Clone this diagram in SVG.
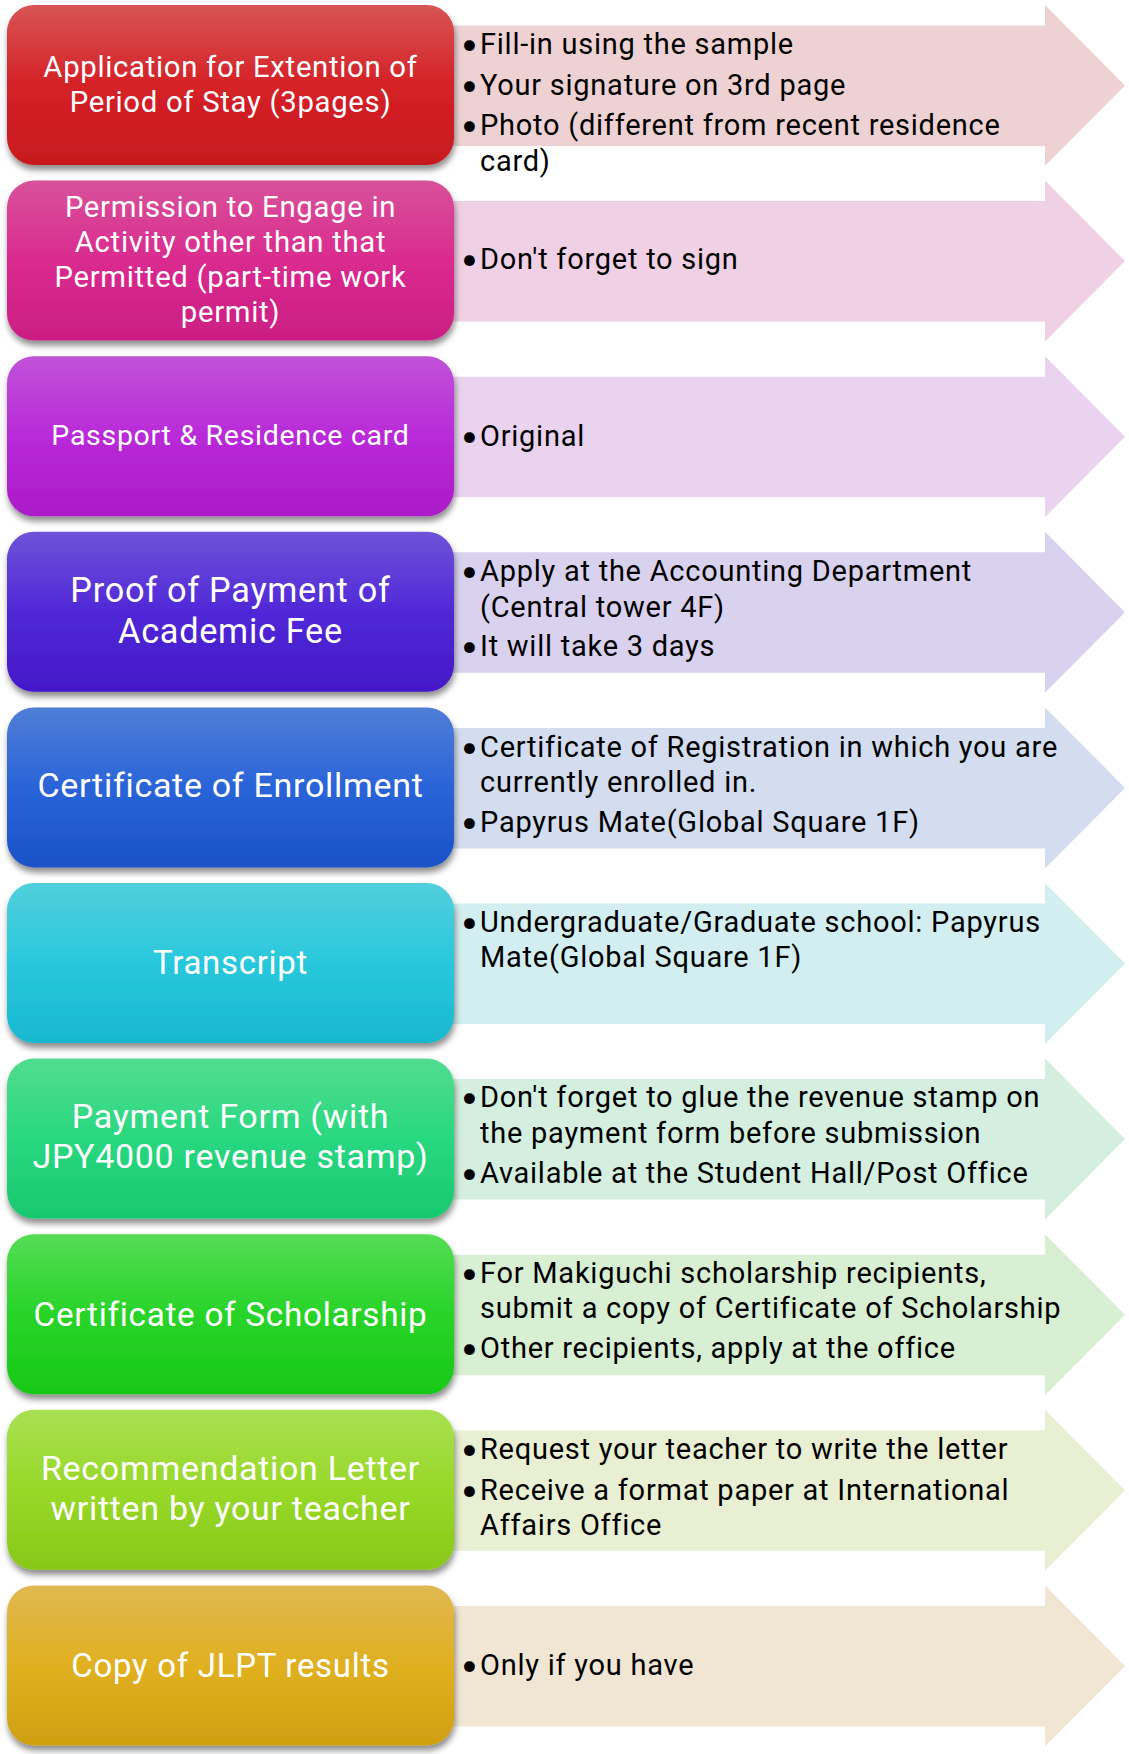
<svg xmlns="http://www.w3.org/2000/svg" width="1129" height="1754" viewBox="0 0 1129 1754">
<style>
.box{filter:url(#sh);}
.lt{font-family:Roboto,"Liberation Sans",sans-serif;fill:#ffffff;text-anchor:middle;letter-spacing:0.7px;}
.rt{font-family:Roboto,"Liberation Sans",sans-serif;fill:#000000;font-size:29px;letter-spacing:0.75px;}
.bl{font-family:Lato,Roboto,sans-serif;font-size:29px;letter-spacing:0;}
</style>
<defs>
<filter id="sh" x="-5%" y="-10%" width="112%" height="125%">
<feDropShadow dx="1" dy="5" stdDeviation="3" flood-color="#000" flood-opacity="0.45"/>
</filter>
<linearGradient id="g1" x1="0" y1="0" x2="0" y2="1"><stop offset="0" stop-color="#d75555"/><stop offset="0.5" stop-color="#d52127"/><stop offset="1" stop-color="#c7191e"/></linearGradient>
<linearGradient id="g2" x1="0" y1="0" x2="0" y2="1"><stop offset="0" stop-color="#d8529a"/><stop offset="0.5" stop-color="#da2a8f"/><stop offset="1" stop-color="#cb1e83"/></linearGradient>
<linearGradient id="g3" x1="0" y1="0" x2="0" y2="1"><stop offset="0" stop-color="#c052d8"/><stop offset="0.5" stop-color="#b92ad8"/><stop offset="1" stop-color="#ab1ac8"/></linearGradient>
<linearGradient id="g4" x1="0" y1="0" x2="0" y2="1"><stop offset="0" stop-color="#6e52d8"/><stop offset="0.5" stop-color="#5028d8"/><stop offset="1" stop-color="#4418c8"/></linearGradient>
<linearGradient id="g5" x1="0" y1="0" x2="0" y2="1"><stop offset="0" stop-color="#507ed8"/><stop offset="0.5" stop-color="#2a64d8"/><stop offset="1" stop-color="#1a52c8"/></linearGradient>
<linearGradient id="g6" x1="0" y1="0" x2="0" y2="1"><stop offset="0" stop-color="#52cfdc"/><stop offset="0.5" stop-color="#28c8dc"/><stop offset="1" stop-color="#18b8d0"/></linearGradient>
<linearGradient id="g7" x1="0" y1="0" x2="0" y2="1"><stop offset="0" stop-color="#52dc90"/><stop offset="0.5" stop-color="#28d880"/><stop offset="1" stop-color="#18c870"/></linearGradient>
<linearGradient id="g8" x1="0" y1="0" x2="0" y2="1"><stop offset="0" stop-color="#55dc55"/><stop offset="0.5" stop-color="#28d428"/><stop offset="1" stop-color="#18c818"/></linearGradient>
<linearGradient id="g9" x1="0" y1="0" x2="0" y2="1"><stop offset="0" stop-color="#a8e052"/><stop offset="0.5" stop-color="#98d828"/><stop offset="1" stop-color="#88c818"/></linearGradient>
<linearGradient id="g10" x1="0" y1="0" x2="0" y2="1"><stop offset="0" stop-color="#e0b852"/><stop offset="0.5" stop-color="#e0b020"/><stop offset="1" stop-color="#d0a010"/></linearGradient>
<path id="arr" d="M440 20.5 H1045 V0 L1125 80.5 L1045 161 V141 H440 Z"/>
</defs>

<g id="connectors">
<use href="#arr" transform="translate(0,5)" fill="#eed2d3"/>
<use href="#arr" transform="translate(0,180.6)" fill="#f0d0e4"/>
<use href="#arr" transform="translate(0,356.2)" fill="#e9d3ef"/>
<use href="#arr" transform="translate(0,531.8)" fill="#d9d2ef"/>
<use href="#arr" transform="translate(0,707.4)" fill="#d3ddef"/>
<use href="#arr" transform="translate(0,883)" fill="#d3eef0"/>
<use href="#arr" transform="translate(0,1058.6)" fill="#d4efdf"/>
<use href="#arr" transform="translate(0,1234.2)" fill="#d8efd4"/>
<use href="#arr" transform="translate(0,1409.8)" fill="#e8efd3"/>
<use href="#arr" transform="translate(0,1585.4)" fill="#f1e6d3"/>
</g>

<g id="row1" transform="translate(0,5)">
<rect class="box" x="7" y="0" width="447" height="160" rx="27" fill="url(#g1)"/>
<text class="lt" font-size="29.3"><tspan x="230.5" y="72">Application for Extention of</tspan><tspan x="230.5" y="107">Period of Stay (3pages)</tspan></text>
<text class="rt"><tspan class="bl" x="461" y="49">•</tspan><tspan x="480" y="49">Fill-in using the sample</tspan><tspan class="bl" x="461" y="90">•</tspan><tspan x="480" y="90">Your signature on 3rd page</tspan><tspan class="bl" x="461" y="130">•</tspan><tspan x="480" y="130">Photo (different from recent residence</tspan><tspan x="480" y="165.7">card)</tspan></text>
</g>

<g id="row2" transform="translate(0,180.6)">
<rect class="box" x="7" y="0" width="447" height="160" rx="27" fill="url(#g2)"/>
<text class="lt" font-size="29.3"><tspan x="230.5" y="36.4">Permission to Engage in</tspan><tspan x="230.5" y="71.4">Activity other than that</tspan><tspan x="230.5" y="106.4">Permitted (part-time work</tspan><tspan x="230.5" y="141.4">permit)</tspan></text>
<text class="rt"><tspan class="bl" x="461" y="88.7">•</tspan><tspan x="480" y="88.7">Don't forget to sign</tspan></text>
</g>

<g id="row3" transform="translate(0,356.2)">
<rect class="box" x="7" y="0" width="447" height="160" rx="27" fill="url(#g3)"/>
<text class="lt" font-size="28.5" x="230.5" y="88.8">Passport &amp; Residence card</text>
<text class="rt"><tspan class="bl" x="461" y="89.8">•</tspan><tspan x="480" y="89.8">Original</tspan></text>
</g>

<g id="row4" transform="translate(0,531.8)">
<rect class="box" x="7" y="0" width="447" height="160" rx="27" fill="url(#g4)"/>
<text class="lt" font-size="34.3"><tspan x="230.5" y="69.9">Proof of Payment of</tspan><tspan x="230.5" y="111.2">Academic Fee</tspan></text>
<text class="rt"><tspan class="bl" x="461" y="49.2">•</tspan><tspan x="480" y="49.2">Apply at the Accounting Department</tspan><tspan x="480" y="84.9">(Central tower 4F)</tspan><tspan class="bl" x="461" y="124.2">•</tspan><tspan x="480" y="124.2">It will take 3 days</tspan></text>
</g>

<g id="row5" transform="translate(0,707.4)">
<rect class="box" x="7" y="0" width="447" height="160" rx="27" fill="url(#g5)"/>
<text class="lt" font-size="34" x="230.5" y="89.3">Certificate of Enrollment</text>
<text class="rt"><tspan class="bl" x="461" y="49.3">•</tspan><tspan x="480" y="49.3">Certificate of Registration in which you are</tspan><tspan x="480" y="84.3">currently enrolled in.</tspan><tspan class="bl" x="461" y="124.9">•</tspan><tspan x="480" y="124.9">Papyrus Mate(Global Square 1F)</tspan></text>
</g>

<g id="row6" transform="translate(0,883)">
<rect class="box" x="7" y="0" width="447" height="160" rx="27" fill="url(#g6)"/>
<text class="lt" font-size="33" x="230.5" y="91">Transcript</text>
<text class="rt"><tspan class="bl" x="461" y="48.7">•</tspan><tspan x="480" y="48.7">Undergraduate/Graduate school: Papyrus</tspan><tspan x="480" y="84.3">Mate(Global Square 1F)</tspan></text>
</g>

<g id="row7" transform="translate(0,1058.6)">
<rect class="box" x="7" y="0" width="447" height="160" rx="27" fill="url(#g7)"/>
<text class="lt" font-size="34"><tspan x="230.5" y="69.4">Payment Form (with</tspan><tspan x="230.5" y="109.4">JPY4000 revenue stamp)</tspan></text>
<text class="rt"><tspan class="bl" x="461" y="48.7">•</tspan><tspan x="480" y="48.7">Don't forget to glue the revenue stamp on</tspan><tspan x="480" y="84.1">the payment form before submission</tspan><tspan class="bl" x="461" y="124.7">•</tspan><tspan x="480" y="124.7">Available at the Student Hall/Post Office</tspan></text>
</g>

<g id="row8" transform="translate(0,1234.2)">
<rect class="box" x="7" y="0" width="447" height="160" rx="27" fill="url(#g8)"/>
<text class="lt" font-size="33.3" x="230.5" y="91.8">Certificate of Scholarship</text>
<text class="rt"><tspan class="bl" x="461" y="49.1">•</tspan><tspan x="480" y="49.1">For Makiguchi scholarship recipients,</tspan><tspan x="480" y="84.1">submit a copy of Certificate of Scholarship</tspan><tspan class="bl" x="461" y="124.1">•</tspan><tspan x="480" y="124.1">Other recipients, apply at the office</tspan></text>
</g>

<g id="row9" transform="translate(0,1409.8)">
<rect class="box" x="7" y="0" width="447" height="160" rx="27" fill="url(#g9)"/>
<text class="lt" font-size="34" letter-spacing="1"><tspan x="230.5" y="70.2">Recommendation Letter</tspan><tspan x="230.5" y="110.2">written by your teacher</tspan></text>
<text class="rt"><tspan class="bl" x="461" y="49.5">•</tspan><tspan x="480" y="49.5">Request your teacher to write the letter</tspan><tspan class="bl" x="461" y="90.2">•</tspan><tspan x="480" y="90.2">Receive a format paper at International</tspan><tspan x="480" y="125.2">Affairs Office</tspan></text>
</g>

<g id="row10" transform="translate(0,1585.4)">
<rect class="box" x="7" y="0" width="447" height="160" rx="27" fill="url(#g10)"/>
<text class="lt" font-size="33" x="230.5" y="91.3">Copy of JLPT results</text>
<text class="rt"><tspan class="bl" x="461" y="89.6">•</tspan><tspan x="480" y="89.6">Only if you have</tspan></text>
</g>
</svg>
